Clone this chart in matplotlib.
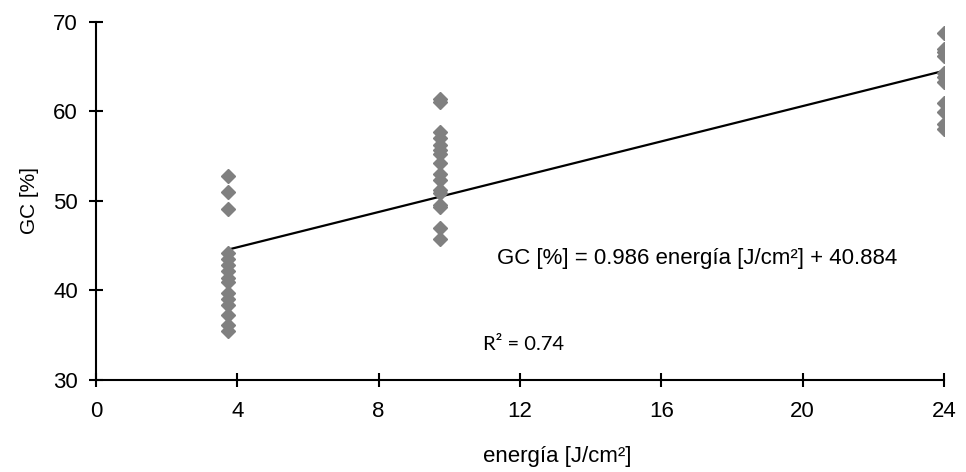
import matplotlib
matplotlib.use("Agg")
import matplotlib.pyplot as plt

# Data
energy_groups = [3.75, 9.75, 24.0]
gc_low = [52.8, 51.0, 49.1, 44.2, 43.5, 42.9, 42.2, 41.4, 40.9, 39.7, 39.1, 38.4, 37.3, 36.1, 35.5]
gc_mid = [61.4, 61.1, 57.7, 57.0, 56.3, 55.7, 55.2, 54.2, 53.0, 52.3, 51.2, 50.9, 49.6, 49.3, 47.0, 45.7]
gc_high = [68.8, 67.0, 66.6, 66.2, 64.3, 63.8, 63.3, 61.0, 59.9, 58.6, 58.0]
slope = 0.986
intercept = 40.884
r2 = 0.74
x_ticks = [0, 4, 8, 12, 16, 20, 24]
y_ticks = [30, 40, 50, 60, 70]

plt.rcParams['font.family'] = ['Liberation Sans', 'DejaVu Sans']

fig = plt.figure(figsize=(9.66, 4.72), dpi=100)
ax = fig.add_axes([96/966, 1 - 380/472, (944 - 96)/966, (380 - 22)/472])

groups = [gc_low, gc_mid, gc_high]
for xg, ys in zip(energy_groups, groups):
    ax.plot([xg] * len(ys), ys, linestyle='none', marker='D', markersize=7,
            color='#808080', markeredgecolor='#808080', zorder=3)

x_line = [min(energy_groups), max(energy_groups)]
y_line = [slope * v + intercept for v in x_line]
ax.plot(x_line, y_line, color='black', linewidth=1.6, zorder=2)

ax.set_xlim(0, 24)
ax.set_ylim(30, 70)
ax.set_xticks(x_ticks)
ax.set_yticks(y_ticks)
ax.tick_params(direction='inout', length=10, width=1.5, labelsize=16)
ax.tick_params(axis='x', pad=10)
ax.tick_params(axis='y', pad=8)
for s in ['top', 'right']:
    ax.spines[s].set_visible(False)
for s in ['left', 'bottom']:
    ax.spines[s].set_linewidth(1.5)

ax.set_xlabel('energía [J/cm²]', fontsize=16)
ax.xaxis.set_label_coords(0.544, -0.185)
ax.set_ylabel('GC [%]', fontsize=15, labelpad=10)

ax.text(11.35, 43.6, f'GC [%] = {slope} energía [J/cm²] + {intercept}', fontsize=16,
        ha='left', va='center')
ax.text(10.95, 34.0, f'R² = {r2}', fontsize=14.5, family=['Lato', 'DejaVu Sans'],
        ha='left', va='center')

fig.savefig('out.png', dpi=100)
